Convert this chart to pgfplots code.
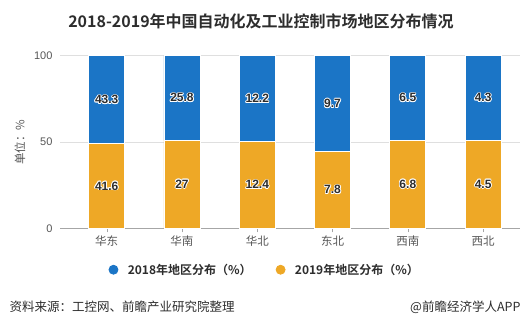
\documentclass[border=0pt]{standalone}
\usepackage{pgfplots}
\pgfplotsset{compat=1.18}
\usepackage{pgfplotstable}
\usepackage{fontspec}
\setmainfont{Noto Sans CJK SC}[BoldFont={Noto Sans CJK SC Bold}]
\newfontfamily\numfont{Liberation Sans}
\definecolor{cblue}{RGB}{27,117,198}
\definecolor{corange}{RGB}{238,168,38}
\definecolor{tgray}{RGB}{85,85,85}
\definecolor{dgray}{RGB}{45,45,45}

\pgfplotstableread{
x a b
0 43.3 41.6
1 25.8 27
2 12.2 12.4
3 9.7 7.8
4 6.5 6.8
5 4.3 4.5
}\data

\newcommand\halo[1]{{\leavevmode
 \rlap{\color{white}\kern-0.8pt#1}%
 \rlap{\color{white}\kern0.8pt#1}%
 \rlap{\color{white}\raisebox{0.8pt}{#1}}%
 \rlap{\color{white}\raisebox{-0.8pt}{#1}}%
 \rlap{\color{white}\kern0.6pt\raisebox{0.6pt}{#1}}%
 \rlap{\color{white}\kern-0.6pt\raisebox{-0.6pt}{#1}}%
 \rlap{\color{white}\kern0.6pt\raisebox{-0.6pt}{#1}}%
 \rlap{\color{white}\kern-0.6pt\raisebox{0.6pt}{#1}}%
 \color{dgray}#1}}

\begin{document}
\begin{tikzpicture}
\path[use as bounding box] (0,0) rectangle (532pt,328pt);
\begin{axis}[
  at={(60pt,99.7pt)}, anchor=south west, scale only axis,
  width=460pt, height=172.6pt,
  xmin=-0.62, xmax=5.49, ymin=0, ymax=100,
  ybar stacked, bar width=36pt,
  axis x line*=bottom, axis y line*=left,
  x axis line style={-, draw=gray!70},
  y axis line style={draw=none},
  xtick={0,...,5}, xticklabels={华东,华南,华北,东北,西南,西北},
  xtick style={draw=gray!70}, tick align=outside, major tick length=4pt,
  ytick={0,50,100}, ytick style={draw=none},
  ymajorgrids, grid style={draw=gray!25, line width=0.6pt},
  xticklabel style={font=\fontsize{11.5}{13}\selectfont, color=tgray},
  yticklabel style={font=\numfont\fontsize{11}{12}\selectfont, color=tgray},
  /pgf/number format/assume math mode=true,
  ylabel={单位：\%}, ylabel style={font=\fontsize{11.5}{13}\selectfont, color=tgray, yshift=2pt},
  legend style={at={(0.445,-0.24)}, anchor=center, draw=none, legend columns=2,
    font=\bfseries\fontsize{12}{14}\selectfont, text=dgray,
    /tikz/every even column/.append style={column sep=22pt}},
  reverse legend,
]
\addplot[fill=corange, draw=white, line width=0.8pt,
  legend image code/.code={\fill[corange] (0,0) circle (4.5pt); \path (0.42cm,0);}]
  table[x=x, y expr={100*\thisrow{b}/(\thisrow{a}+\thisrow{b})}] {\data};
\addlegendentry{2019年地区分布（\%）}
\addplot[fill=cblue, draw=white, line width=0.8pt,
  legend image code/.code={\fill[cblue] (0,0) circle (4.5pt); \path (0.42cm,0);}]
  table[x=x, y expr={100*\thisrow{a}/(\thisrow{a}+\thisrow{b})}] {\data};
\addlegendentry{2018年地区分布（\%）}
\end{axis}
\begin{axis}[
  at={(60pt,99.7pt)}, anchor=south west, scale only axis,
  width=460pt, height=172.6pt,
  xmin=-0.62, xmax=5.49, ymin=0, ymax=100,
  hide axis,
  nodes near coords={\halo{\pgfplotspointmeta}},
  nodes near coords align={center},
  every node near coord/.append style={font=\numfont\bfseries\fontsize{12}{14}\selectfont, inner sep=0pt},
]
\addplot[draw=none, mark=none, point meta=explicit symbolic]
  table[x=x, y expr={50*\thisrow{b}/(\thisrow{a}+\thisrow{b})}, meta=b] {\data};
\addplot[draw=none, mark=none, point meta=explicit symbolic]
  table[x=x, y expr={50+50*\thisrow{b}/(\thisrow{a}+\thisrow{b})}, meta=a] {\data};
\end{axis}
\node[font=\bfseries\fontsize{16}{19}\selectfont, text=dgray] at (261pt,307pt) {2018-2019年中国自动化及工业控制市场地区分布情况};
\node[anchor=west, font=\fontsize{12.5}{15}\selectfont, text=dgray] at (6pt,21pt) {资料来源：工控网、前瞻产业研究院整理};
\node[anchor=east, font=\fontsize{12.5}{15}\selectfont, text=dgray] at (524pt,21pt) {@前瞻经济学人APP};
\end{tikzpicture}
\end{document}
